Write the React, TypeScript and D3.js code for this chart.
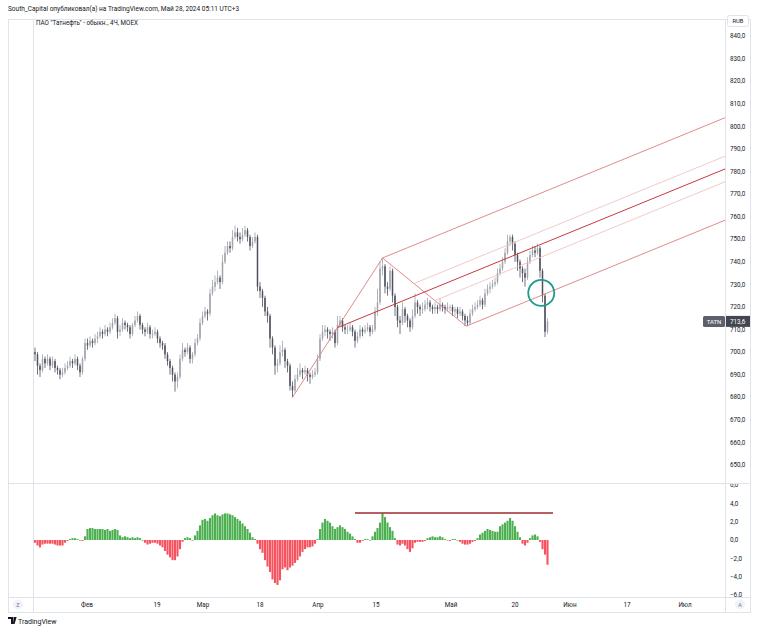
import React from "react";
import * as d3 from "d3";

// ---------- DATA ----------
const firstOpen = 700;
const closes = [
  699, 694, 692, 697, 695, 697, 694, 696, 693, 692,
  690, 691, 693, 694, 696, 695, 697, 694, 691, 697,
  704, 703, 705, 704, 706, 707, 709, 708, 710, 709,
  711, 713, 715, 709, 710, 713, 712, 711, 708, 712,
  714, 716, 712, 710, 709, 711, 708, 708, 709, 706,
  704, 703, 699, 696, 693, 690, 687, 689, 697, 701,
  700, 702, 697, 699, 704, 706, 713, 716, 718, 717,
  726, 729, 731, 733, 731, 740, 744, 747, 746, 751,
  753, 751, 750, 752, 754, 751, 747, 749, 751, 729,
  727, 724, 718, 716, 706, 702, 694, 695, 700, 701,
  696, 694, 685, 683, 688, 690, 692, 691, 692, 690,
  689, 690, 691, 697, 706, 709, 710, 709, 708, 709,
  704, 712, 714, 711, 710, 710, 711, 709, 705, 707,
  710, 709, 710, 711, 709, 710, 718, 722, 737, 738,
  729, 728, 736, 725, 720, 714, 713, 719, 716, 714,
  711, 716, 722, 720, 719, 719, 721, 722, 720, 719,
  720, 719, 721, 720, 719, 720, 720, 718, 719, 717,
  718, 716, 714, 713, 717, 719, 720, 721, 723, 721,
  726, 728, 729, 730, 731, 735, 737, 740, 744, 749,
  751, 748, 743, 740, 737, 735, 733, 740, 743, 745,
  744, 746, 736, 725, 709, 713.6,
];
const highs = [
  702, 700, 695, 699, 698, 699, 698, 698, 697, 694,
  693, 693, 695, 696, 698, 697, 699, 698, 695, 698,
  706, 706, 707, 706, 708, 709, 711, 710, 712, 711,
  713, 715, 717, 716, 712, 715, 714, 713, 712, 713,
  716, 718, 717, 713, 711, 713, 712, 710, 711, 710,
  707, 705, 704, 700, 697, 694, 691, 691, 699, 704,
  702, 704, 703, 700, 706, 708, 715, 718, 720, 719,
  728, 732, 734, 736, 734, 743, 747, 749, 749, 754,
  756, 755, 753, 755, 756, 755, 752, 751, 753, 752,
  731, 728, 725, 720, 717, 707, 703, 697, 703, 705,
  702, 697, 695, 687, 690, 693, 695, 693, 694, 693,
  691, 692, 693, 699, 708, 712, 712, 711, 710, 711,
  710, 716, 716, 715, 712, 712, 713, 712, 710, 709,
  712, 711, 712, 713, 712, 712, 720, 728, 740, 741.7,
  739, 731, 738, 737, 726, 721, 716, 722, 720, 717,
  715, 719, 726, 723, 721, 722, 723, 724, 723, 721,
  722, 721, 724, 722, 721, 722, 721, 721, 720, 720,
  720, 719, 717, 716, 719, 721, 722, 723, 725, 724,
  728, 730, 731, 732, 733, 737, 739, 742, 746, 752,
  752, 752, 749, 744, 741, 738, 737, 742, 745, 747,
  747, 748, 747, 737, 726, 715,
];
const lows = [
  696, 690, 689, 691, 693, 694, 692, 693, 691, 690,
  688, 689, 690, 692, 693, 693, 694, 692, 689, 690,
  696, 701, 702, 702, 703, 704, 706, 706, 707, 707,
  708, 710, 712, 706, 707, 709, 710, 709, 706, 707,
  711, 713, 710, 708, 707, 708, 706, 706, 707, 704,
  702, 701, 697, 694, 690, 687, 682.5, 684, 688, 696,
  698, 699, 695, 695, 698, 703, 705, 712, 715, 714,
  716, 725, 727, 730, 728, 730, 739, 743, 744, 745,
  750, 749, 748, 749, 751, 749, 745, 746, 748, 727,
  724, 720, 716, 713, 702, 699, 690, 691, 694, 698,
  693, 691, 683, 680, 682, 687, 689, 688, 690, 687,
  686, 688, 689, 690, 696, 705, 707, 706, 705, 706,
  702, 703, 711, 709, 708, 708, 709, 707, 702, 704,
  706, 707, 708, 709, 707, 708, 709, 716, 721, 734,
  726, 725, 727, 722, 716, 711, 708, 712, 713, 711,
  709, 710, 715, 717, 716, 717, 718, 719, 718, 717,
  717, 717, 718, 718, 717, 718, 718, 716, 716, 715,
  716, 714, 711.5, 711.5, 712, 716, 718, 719, 720, 719,
  720, 725, 726, 728, 729, 730, 734, 736, 739, 743,
  747, 745, 740, 736, 733, 731, 729, 732, 739, 742,
  742, 743, 733, 722, 706.7, 708,
];
const oscValues = [
  -0.3, -0.6, -0.8, -0.5, -0.4, -0.4, -0.4, -0.4, -0.5, -0.6,
  -0.6, -0.6, -0.3, -0.1, 0.1, 0.2, 0.2, 0.1, 0.0, -0.1,
  0.4, 1.2, 1.3, 1.3, 1.2, 1.2, 1.2, 1.2, 1.1, 1.2,
  1.0, 1.1, 1.2, 1.1, 0.5, 0.3, 0.4, 0.3, 0.2, 0.3,
  0.2, 0.3, 0.2, 0.0, -0.3, -0.5, -0.4, -0.3, -0.3, -0.4,
  -0.6, -0.8, -1.2, -1.6, -1.9, -2.2, -2.2, -1.8, -1.0, -0.2,
  0.2, 0.3, 0.2, 0.0, 0.5, 1.0, 1.6, 2.2, 2.3, 2.1,
  2.4, 2.7, 2.9, 2.7, 2.6, 2.8, 2.9, 2.9, 2.8, 2.7,
  2.5, 2.3, 2.1, 1.8, 1.5, 1.2, 0.8, 0.3, 0.1, -0.4,
  -1.0, -1.4, -2.2, -2.9, -3.5, -4.3, -4.7, -4.9, -4.4, -3.2,
  -3.0, -3.3, -3.0, -2.8, -2.5, -2.2, -1.8, -1.3, -1.0, -0.8,
  -0.8, -0.7, -0.4, 0.1, 1.2, 1.9, 2.3, 2.1, 1.9, 1.5,
  1.2, 1.4, 1.6, 1.4, 1.2, 0.9, 0.7, 0.4, 0.1, -0.3,
  -0.3, -0.1, 0.1, 0.1, 0.0, 0.4, 0.9, 1.3, 1.9, 2.9,
  2.5, 1.9, 1.4, 1.0, 0.2, -0.5, -0.6, -0.4, -0.6, -1.0,
  -1.3, -0.9, -0.3, -0.2, -0.2, -0.2, -0.1, 0.2, 0.3, 0.4,
  0.3, 0.3, 0.4, 0.3, 0.1, 0.0, -0.1, 0.1, 0.1, 0.0,
  -0.2, -0.4, -0.5, -0.5, -0.4, -0.2, -0.1, 0.2, 0.6, 0.8,
  1.0, 1.2, 1.1, 1.0, 0.9, 0.9, 1.5, 1.7, 1.9, 2.1,
  2.4, 2.1, 1.5, 0.9, 0.3, -0.4, -0.6, -0.3, 0.2, 0.5,
  0.6, 0.4, -0.2, -1.0, -1.6, -2.7,
];
const priceTicks = [840, 830, 820, 810, 800, 790, 780, 770, 760, 750, 740, 730, 720, 710, 700, 690, 680, 670, 660, 650];
const oscTicks = [6, 4, 2, 0, -2, -4, -6];
const timeTickLabels = ["Фев", "19", "Мар", "18", "Апр", "15", "Май", "20", "Июн", "17", "Июл"];
const timeTickIndex = [20.8, 48.8, 67.2, 90, 113.2, 136.4, 166.4, 192, 214, 236.8, 260];
// pitchfork anchors: [bar index, price]
const pitchforkPoints = [[103, 680], [139, 741.7], [172.5, 711.5]];
const pitchforkLevels = [0.25];
const oscLevelLine = { from: 128, to: 207.2, value: 2.95 };
const circleMark = { index: 202.5, price: 726.2 };
const lastPrice = 713.6;
const ticker = "TATN";
const headerText = "South_Capital опубликовал(а) на TradingView.com, Май 28, 2024 05:11 UTC+3";
const legendText = "ПАО \"Татнефть\" - обыкн., 4Ч, MOEX";

// ---------- LAYOUT ----------
const W = 758, H = 631;
const paneL = 33, paneR = 725;
const frameL = 8, frameR = 750;
const top = 19, sep = 483, axisTop = 597, bottom = 612;
const FONT = "Roboto, 'Liberation Sans', Arial, sans-serif";

const fmt = (v: number) => {
  const s = d3.format(".1f")(Math.abs(v)).replace(".", ",");
  return (v < 0 ? "\u2212" : "") + s;
};

export default function App() {
  const n = closes.length;
  const x = d3.scaleLinear().domain([0, n - 1]).range([35, 547.5]);
  const y = d3.scaleLinear().domain([650, 840]).range([465, 36]);
  const yo = d3.scaleLinear().domain([-6, 6]).range([595, 485]);

  const opens = closes.map((_, i) => (i === 0 ? firstOpen : closes[i - 1]));
  const step = x(1) - x(0);
  const bodyW = 1.5;

  // pitchfork geometry (modified Schiff)
  const [A, B, C] = pitchforkPoints.map(([i, p]) => ({ x: x(i), y: y(p) }));
  const M = { x: (B.x + C.x) / 2, y: (B.y + C.y) / 2 };
  const S = { x: (A.x + B.x) / 2, y: (A.y + B.y) / 2 };
  const slope = (M.y - S.y) / (M.x - S.x);
  const ext = (p: { x: number; y: number }) => ({ x1: p.x, y1: p.y, x2: paneR, y2: p.y + slope * (paneR - p.x) });
  const lvlLines = pitchforkLevels.flatMap((l) => [
    { x: M.x + l * (B.x - M.x), y: M.y + l * (B.y - M.y) },
    { x: M.x + l * (C.x - M.x), y: M.y + l * (C.y - M.y) },
  ]);
  const tineColor = "#de7d7f";
  const medianColor = "#c63a3f";
  const lvlColor = "#f0c3c4";

  const upCol = "#a0a3ac";
  const downCol = "#4e525d";

  return (
    <div style={{ position: "fixed", left: 0, top: 0, width: W, height: H, background: "#fff" }}>
      <svg width={W} height={H} style={{ display: "block", fontFamily: FONT }}>
        <rect x={0} y={0} width={W} height={H} fill="#ffffff" />
        <defs>
          <clipPath id="mainClip">
            <rect x={paneL} y={top} width={paneR - paneL} height={sep - top} />
          </clipPath>
          <clipPath id="oscClip">
            <rect x={paneL} y={sep} width={paneR - paneL} height={axisTop - sep} />
          </clipPath>
          <clipPath id="oscAxisClip">
            <rect x={paneR} y={sep + 1} width={frameR - paneR} height={axisTop - sep - 1} />
          </clipPath>
        </defs>

        {/* header */}
        <text x={8} y={11} fontSize={6.5} fill="#131722">{headerText}</text>

        {/* frame */}
        <g stroke="#e0e3eb" strokeWidth={1} fill="none" shapeRendering="crispEdges">
          <rect x={frameL + 0.5} y={top + 0.5} width={frameR - frameL} height={bottom - top} />
          <line x1={paneL + 0.5} y1={top} x2={paneL + 0.5} y2={bottom} />
          <line x1={paneR + 0.5} y1={top} x2={paneR + 0.5} y2={bottom} />
          <line x1={frameL} y1={sep + 0.5} x2={frameR} y2={sep + 0.5} />
          <line x1={frameL} y1={axisTop + 0.5} x2={frameR} y2={axisTop + 0.5} />
        </g>

        {/* legend */}
        <text x={36} y={25} fontSize={6.3} fill="#131722">{legendText}</text>

        {/* candles */}
        <g clipPath="url(#mainClip)">
          {closes.map((c, i) => {
            const o = opens[i];
            const up = c >= o;
            const col = up ? upCol : downCol;
            const cx = x(i);
            const yTop = y(Math.max(o, c));
            const yBot = y(Math.min(o, c));
            return (
              <g key={i}>
                <line x1={cx} x2={cx} y1={y(highs[i])} y2={y(lows[i])} stroke={col} strokeWidth={0.8} />
                <rect x={cx - bodyW / 2} y={yTop} width={bodyW} height={Math.max(0.8, yBot - yTop)} fill={col} />
              </g>
            );
          })}

          {/* pitchfork */}
          <g fill="none" strokeWidth={0.9}>
            <line x1={A.x} y1={A.y} x2={B.x} y2={B.y} stroke={tineColor} />
            <line x1={B.x} y1={B.y} x2={C.x} y2={C.y} stroke={tineColor} />
            {lvlLines.map((p, k) => {
              const e = ext(p);
              return <line key={k} {...e} stroke={lvlColor} />;
            })}
            <line {...ext(B)} stroke={tineColor} />
            <line {...ext(C)} stroke={tineColor} />
            <line {...ext(S)} stroke={medianColor} strokeWidth={1} />
          </g>

          {/* circle */}
          <circle cx={x(circleMark.index)} cy={y(circleMark.price)} r={13} fill="none" stroke="#1e9c8b" strokeWidth={1.8} />
        </g>

        {/* oscillator */}
        <g clipPath="url(#oscClip)">
          {oscValues.map((v, i) => {
            const y0 = yo(0);
            const y1 = yo(v);
            return (
              <rect
                key={i}
                x={x(i) - step / 2 + 0.2}
                width={step - 0.4}
                y={Math.min(y0, y1)}
                height={Math.max(0.6, Math.abs(y1 - y0))}
                fill={v >= 0 ? "#4caf50" : "#f7525f"}
              />
            );
          })}
          <line
            x1={x(oscLevelLine.from)}
            x2={x(oscLevelLine.to)}
            y1={yo(oscLevelLine.value)}
            y2={yo(oscLevelLine.value)}
            stroke="#9c2a2e"
            strokeWidth={1.4}
          />
        </g>

        {/* price axis */}
        <g fontSize={6.3} fill="#131722">
          {priceTicks.map((p) => (
            <text key={p} x={730} y={y(p) + 2.2}>{fmt(p)}</text>
          ))}
          <rect x={727.5} y={15.5} width={21} height={11} rx={2} fill="#fff" stroke="#e0e3eb" />
          <text x={738} y={23} textAnchor="middle" fontSize={5.8}>RUB</text>
        </g>
        <g fontSize={6.3} fill="#131722" clipPath="url(#oscAxisClip)">
          {oscTicks.map((v) => (
            <text key={v} x={730} y={yo(v) + 2.2}>{fmt(v)}</text>
          ))}
        </g>

        {/* last price label */}
        <g>
          <rect x={703} y={y(lastPrice) - 5.5} width={22} height={11} rx={1.5} fill="#5d606b" />
          <text x={714} y={y(lastPrice) + 2.2} fontSize={6} textAnchor="middle" fill="#fff">{ticker}</text>
          <rect x={726} y={y(lastPrice) - 5.5} width={24} height={11} fill="#434651" />
          <text x={730} y={y(lastPrice) + 2.2} fontSize={6.3} fill="#fff">{fmt(lastPrice)}</text>
        </g>

        {/* time axis */}
        <g fontSize={6.3} fill="#131722" textAnchor="middle">
          {timeTickLabels.map((t, k) => (
            <text key={t + k} x={x(timeTickIndex[k])} y={607}>{t}</text>
          ))}
        </g>
        <circle cx={18} cy={604.5} r={5} fill="#f0f3fa" />
        <text x={18} y={606.8} fontSize={5.5} fill="#787b86" textAnchor="middle">Z</text>
        <circle cx={740} cy={604.5} r={5} fill="#f0f3fa" />
        <text x={740} y={606.8} fontSize={5.5} fill="#787b86" textAnchor="middle">A</text>

        {/* footer */}
        <g transform="translate(8,617)">
          <path d="M0 0 H5 V7 H3 V2 H0 Z M5.6 0 H8.6 L6.6 7 H5 Z" fill="#131722" />
        </g>
        <text x={18} y={624} fontSize={7} fill="#131722">TradingView</text>
      </svg>
    </div>
  );
}
